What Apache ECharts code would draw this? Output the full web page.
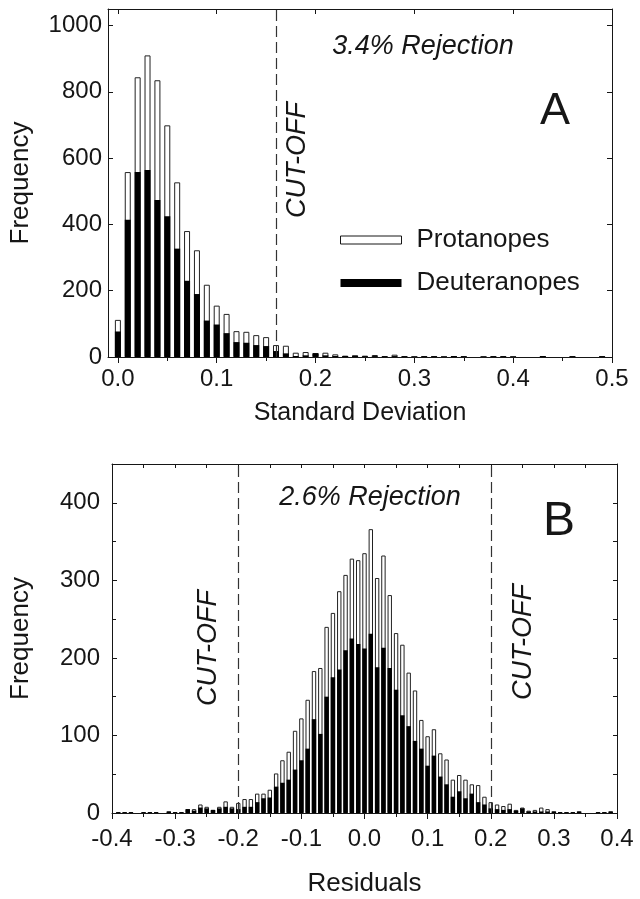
<!DOCTYPE html>
<html><head><meta charset="utf-8">
<script src="https://cdn.jsdelivr.net/npm/echarts@6/dist/echarts.min.js"></script>
<style>html,body{margin:0;padding:0;background:#fff}#c{width:640px;height:899px}</style>
</head><body><div id="c"></div>
<script>
// ---------- Panel A : standard deviation histogram ----------
const binsA = [0.00,0.01,0.02,0.03,0.04,0.05,0.06,0.07,0.08,0.09,
  0.10,0.11,0.12,0.13,0.14,0.15,0.16,0.17,0.18,0.19,
  0.20,0.21,0.22,0.23,0.24,0.25,0.26,0.27,0.28,0.29,
  0.30,0.31,0.32,0.33,0.34,0.35,0.36,0.37,0.38,0.39,
  0.40,0.41,0.42,0.43,0.44,0.45,0.46,0.47,0.48,0.49];
// total bar height (protanopes + deuteranopes)
const totalA = [112,558,844,910,835,699,527,380,322,218,
  155,130,78,76,66,60,36,34,13,15,
  12,13,8,4,5,4,6,3,7,2,
  1,2,2,1,3,2,0,1,2,2,
  1,0,0,3,0,0,2,0,0,2];
// deuteranope (black) part
const deutA = [77,414,558,564,474,425,327,230,190,110,
  98,72,45,43,36,33,18,11,3,5,
  11,5,3,3,4,2,2,2,2,2,
  1,2,2,1,3,2,0,1,2,2,
  1,0,0,3,0,0,2,0,0,2];
const cutA = [0.1575];
const xTicksA = [0,0.1,0.2,0.3,0.4,0.5];
const xMinorA = [0.05,0.15,0.25,0.35,0.45];

// ---------- Panel B : residuals histogram ----------
const binsB = [-0.39,-0.38,-0.37,-0.36,-0.35,-0.34,-0.33,-0.32,-0.31,-0.30,
  -0.29,-0.28,-0.27,-0.26,-0.25,-0.24,-0.23,-0.22,-0.21,-0.20,
  -0.19,-0.18,-0.17,-0.16,-0.15,-0.14,-0.13,-0.12,-0.11,-0.10,
  -0.09,-0.08,-0.07,-0.06,-0.05,-0.04,-0.03,-0.02,-0.01,0.00,
  0.01,0.02,0.03,0.04,0.05,0.06,0.07,0.08,0.09,0.10,
  0.11,0.12,0.13,0.14,0.15,0.16,0.17,0.18,0.19,0.20,
  0.21,0.22,0.23,0.24,0.25,0.26,0.27,0.28,0.29,0.30,
  0.31,0.32,0.33,0.34,0.35,0.36,0.37,0.38,0.39];
const totalB = [1,1,1,0,1,1,1,0,2,1,
  1,5,5,11,8,4,8,15,8,13,
  18,18,25,25,30,51,68,79,106,122,
  146,183,187,240,258,286,307,328,326,335,
  366,303,332,281,232,217,181,158,120,99,
  108,77,69,43,49,43,37,36,21,14,
  11,9,12,4,7,3,4,7,5,2,
  1,1,1,2,0,0,1,1,2];
const deutB = [1,1,1,0,1,1,1,0,2,1,
  1,5,3,7,6,4,6,8,6,5,
  8,8,14,19,20,34,39,43,56,68,
  83,121,102,150,175,185,210,225,218,212,
  231,188,213,187,159,126,112,93,83,61,
  74,47,37,21,28,19,25,14,11,6,
  5,4,5,3,6,2,2,2,2,2,
  1,1,1,2,0,0,1,1,2];
const cutB = [-0.204, 0.204];

const FONT = '"Liberation Sans", Arial, Helvetica, sans-serif';
const INK = '#161616';
const pairs = (xs, ys) => xs.map((x, i) => [x, ys[i] === 0 ? '-' : ys[i]]);
const fmt1 = v => Math.abs(v) < 1e-9 ? '0.0' : Number(v).toFixed(1);
const fmtInt = v => String(Math.round(v));
const lineS = {show: true, onZero: false, lineStyle: {color: INK, width: 1}};
const noLine = {show: false, onZero: false};
const lbl = (size, margin, extra) => Object.assign({color: INK, fontSize: size, fontFamily: FONT, margin: margin}, extra || {});
const none = {show: false};

const cutLine = (vals) => ({
  silent: true, symbol: ['none', 'none'], label: {show: false},
  lineStyle: {color: '#333', width: 1.2, type: [11, 5]},
  data: vals.map(v => ({xAxis: v}))
});

const chart = echarts.init(document.getElementById('c'), null, {renderer: 'canvas'});
chart.setOption({
  animation: false,
  backgroundColor: '#fff',
  grid: [
    {left: 107, right: 28, top: 9, height: 348},
    {left: 111, right: 23, top: 464, height: 349}
  ],
  xAxis: [
    {gridIndex: 0, type: 'value', min: -0.01, max: 0.5, position: 'bottom',
     axisLine: lineS, splitLine: none,
     axisTick: {show: true, length: 6, lineStyle: {color: INK}, customValues: xTicksA},
     axisLabel: lbl(24, 10, {customValues: xTicksA, formatter: fmt1}),
     name: 'Standard Deviation', nameLocation: 'middle', nameGap: 44,
     nameTextStyle: {color: INK, fontSize: 25, fontFamily: FONT}},
    {gridIndex: 0, type: 'value', min: -0.01, max: 0.5, position: 'bottom',
     axisLine: noLine, splitLine: none, axisLabel: none,
     axisTick: {show: true, length: 4, lineStyle: {color: INK}, customValues: xMinorA}},
    {gridIndex: 0, type: 'value', min: -0.01, max: 0.5, position: 'top',
     axisLine: lineS, splitLine: none, axisLabel: none,
     axisTick: {show: true, inside: true, length: 5, lineStyle: {color: INK}, customValues: xTicksA}},
    {gridIndex: 1, type: 'value', min: -0.4, max: 0.4, interval: 0.1, position: 'bottom',
     axisLine: lineS, splitLine: none,
     axisTick: {show: true, length: 6, lineStyle: {color: INK}},
     axisLabel: lbl(24, 14, {formatter: fmt1}),
     name: 'Residuals', nameLocation: 'middle', nameGap: 58,
     nameTextStyle: {color: INK, fontSize: 26, fontFamily: FONT}},
    {gridIndex: 1, type: 'value', min: -0.4, max: 0.4, interval: 0.05, position: 'bottom',
     axisLine: noLine, splitLine: none, axisLabel: none,
     axisTick: {show: true, length: 4, lineStyle: {color: INK}}},
    {gridIndex: 1, type: 'value', min: -0.4, max: 0.4, interval: 0.05, position: 'top',
     axisLine: lineS, splitLine: none, axisLabel: none,
     axisTick: {show: true, inside: true, length: 4, lineStyle: {color: INK}}}
  ],
  yAxis: [
    {gridIndex: 0, type: 'value', min: 0, max: 1050, interval: 200, position: 'left',
     axisLine: lineS, splitLine: none,
     axisTick: {show: true, inside: true, length: 5, lineStyle: {color: INK}},
     axisLabel: lbl(24, 6, {formatter: fmtInt, showMaxLabel: false}),
     name: 'Frequency', nameLocation: 'middle', nameGap: 74,
     nameTextStyle: {color: INK, fontSize: 26, fontFamily: FONT}},
    {gridIndex: 0, type: 'value', min: 0, max: 1050, interval: 200, position: 'right',
     axisLine: lineS, splitLine: none, axisLabel: none,
     axisTick: {show: true, inside: true, length: 5, lineStyle: {color: INK}}},
    {gridIndex: 1, type: 'value', min: 0, max: 450, interval: 100, position: 'left',
     axisLine: lineS, splitLine: none,
     axisTick: {show: true, inside: true, length: 5, lineStyle: {color: INK}},
     axisLabel: lbl(24, 12, {formatter: fmtInt, showMaxLabel: false}),
     name: 'Frequency', nameLocation: 'middle', nameGap: 78,
     nameTextStyle: {color: INK, fontSize: 26, fontFamily: FONT}},
    {gridIndex: 1, type: 'value', min: 0, max: 450, interval: 50, position: 'left',
     axisLine: noLine, splitLine: none, axisLabel: none,
     axisTick: {show: true, inside: true, length: 4, lineStyle: {color: INK}}},
    {gridIndex: 1, type: 'value', min: 0, max: 450, interval: 50, position: 'right',
     axisLine: lineS, splitLine: none, axisLabel: none,
     axisTick: {show: true, inside: true, length: 4, lineStyle: {color: INK}}}
  ],
  legend: {
    orient: 'vertical', left: 340, top: 227, itemWidth: 61, itemHeight: 8, itemGap: 17,
    icon: 'rect', selectedMode: false, padding: 0,
    textStyle: {fontSize: 26, fontFamily: FONT, color: INK, padding: [0, 0, 0, 10]},
    data: [
      {name: 'Protanopes', itemStyle: {color: '#fff', borderColor: INK, borderWidth: 1}},
      {name: 'Deuteranopes', itemStyle: {color: '#000', borderWidth: 0}}
    ]
  },
  series: [
    {type: 'bar', name: 'Protanopes', xAxisIndex: 0, yAxisIndex: 0, barWidth: 6, barGap: '-100%',
     itemStyle: {color: '#fff', borderColor: '#222', borderWidth: 1}, data: pairs(binsA, totalA)},
    {type: 'bar', name: 'Deuteranopes', xAxisIndex: 0, yAxisIndex: 0, barWidth: 6, barGap: '-100%',
     itemStyle: {color: '#000'}, data: pairs(binsA, deutA), markLine: cutLine(cutA)},
    {type: 'bar', name: 'Protanopes', xAxisIndex: 3, yAxisIndex: 2, barWidth: 4.4, barGap: '-100%',
     itemStyle: {color: '#fff', borderColor: '#222', borderWidth: 1}, data: pairs(binsB, totalB)},
    {type: 'bar', name: 'Deuteranopes', xAxisIndex: 3, yAxisIndex: 2, barWidth: 4.4, barGap: '-100%',
     itemStyle: {color: '#000'}, data: pairs(binsB, deutB), markLine: cutLine(cutB)}
  ],
  graphic: [
    {type: 'text', x: 423, y: 46, style: {text: '3.4% Rejection', font: 'italic 27px ' + FONT, fill: INK, align: 'center', verticalAlign: 'middle', textAlign: 'center', textVerticalAlign: 'middle'}},
    {type: 'text', x: 555, y: 112, style: {text: 'A', font: '45px ' + FONT, fill: INK, align: 'center', verticalAlign: 'middle', textAlign: 'center', textVerticalAlign: 'middle'}},
    {type: 'text', x: 297, y: 160, rotation: Math.PI / 2, style: {text: 'CUT-OFF', font: 'italic 27px ' + FONT, fill: INK, align: 'center', verticalAlign: 'middle', textAlign: 'center', textVerticalAlign: 'middle'}},
    {type: 'text', x: 370, y: 497, style: {text: '2.6% Rejection', font: 'italic 27px ' + FONT, fill: INK, align: 'center', verticalAlign: 'middle', textAlign: 'center', textVerticalAlign: 'middle'}},
    {type: 'text', x: 559, y: 522, style: {text: 'B', font: '48px ' + FONT, fill: INK, align: 'center', verticalAlign: 'middle', textAlign: 'center', textVerticalAlign: 'middle'}},
    {type: 'text', x: 208, y: 648, rotation: Math.PI / 2, style: {text: 'CUT-OFF', font: 'italic 27px ' + FONT, fill: INK, align: 'center', verticalAlign: 'middle', textAlign: 'center', textVerticalAlign: 'middle'}},
    {type: 'text', x: 523, y: 642, rotation: Math.PI / 2, style: {text: 'CUT-OFF', font: 'italic 27px ' + FONT, fill: INK, align: 'center', verticalAlign: 'middle', textAlign: 'center', textVerticalAlign: 'middle'}}
  ]
});
</script>
</body></html>
